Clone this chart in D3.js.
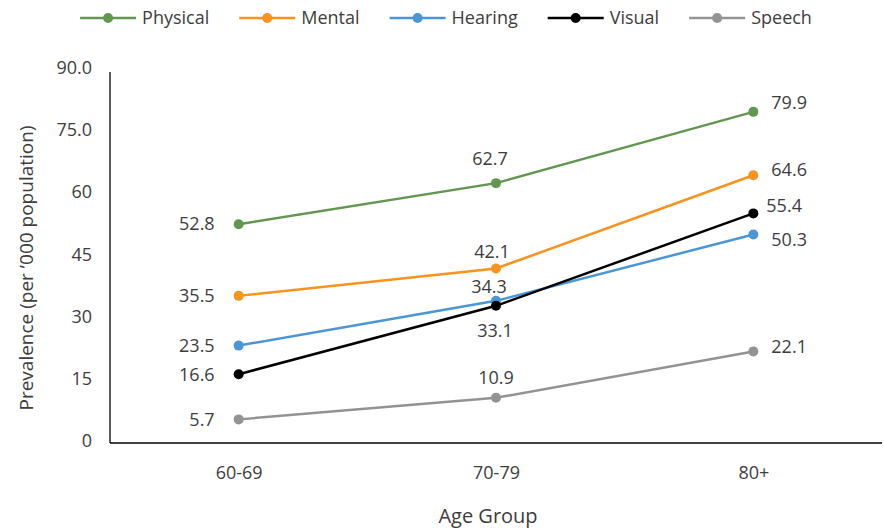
<!DOCTYPE html>
<html><head><meta charset="utf-8">
<script src="https://cdn.jsdelivr.net/npm/d3@7"></script>
<style>body{margin:0;background:#fff}svg{display:block;font-family:"Open Sans",sans-serif}</style>
</head><body><svg id="c" width="884" height="529"></svg>
<script>
const categories = ["60-69", "70-79", "80+"];
const seriesNames = ["Physical", "Mental", "Hearing", "Visual", "Speech"];
const physical = [52.8, 62.7, 79.9];
const mental = [35.5, 42.1, 64.6];
const hearing = [23.5, 34.3, 50.3];
const visual = [16.6, 33.1, 55.4];
const speech = [5.7, 10.9, 22.1];
const yTickValues = [0, 15, 30, 45, 60, 75, 90];
const yTickLabels = ["0", "15", "30", "45", "60", "75.0", "90.0"];
const colors = ["#629651", "#F7931E", "#4A96D6", "#000000", "#939393"];
// label placement per series per category: [dx, dy, anchor]
const labelPlacement = [
  [[-24, 0, "end"], [-6, -24, "middle"], [18, -9, "start"]],
  [[-24, 0, "end"], [-4, -17, "middle"], [18, -6, "start"]],
  [[-24, 0, "end"], [-7, -14, "middle"], [18, 5, "start"]],
  [[-24, 0, "end"], [-1, 25, "middle"], [13, -8, "start"]],
  [[-24, 0, "end"], [0, -20, "middle"], [18, -5, "start"]]
];

const series = [physical, mental, hearing, visual, speech];
const svg = d3.select("#c");
const textColor = "#3d3d3d";
const fs = 18;

const x = d3.scalePoint().domain(categories).range([110, 882]).padding(0.5);
const y = d3.scaleLinear().domain([0, 90]).range([443, 70]);

// axes
const yAxis = svg.append("g").attr("transform", "translate(110,0)")
  .call(d3.axisLeft(y).tickValues(yTickValues).tickSize(0).tickPadding(18)
    .tickFormat((d, i) => yTickLabels[i]));
yAxis.select(".domain").attr("stroke", "#000").attr("stroke-width", 1.3).attr("d", "M0,72V443");
yAxis.selectAll("text").attr("font-size", fs).attr("fill", textColor).attr("font-family", "Open Sans").attr("dy", "0.2em");

const xAxis = svg.append("g").attr("transform", "translate(0,443)")
  .call(d3.axisBottom(x).tickSize(0).tickPadding(23));
xAxis.select(".domain").attr("stroke", "#000").attr("stroke-width", 1.3).attr("d", "M110,0H882");
xAxis.selectAll("text").attr("font-size", fs).attr("fill", textColor).attr("font-family", "Open Sans");

svg.append("text").attr("x", 488).attr("y", 523).attr("text-anchor", "middle")
  .attr("font-size", 20).attr("fill", textColor).text("Age Group");
svg.append("text").attr("transform", "translate(33,268) rotate(-90)").attr("text-anchor", "middle")
  .attr("font-size", 19).attr("fill", textColor).text("Prevalence (per \u2019000 population)");

// lines
const line = d3.line().x((d, i) => x(categories[i])).y(d => y(d));
series.forEach((vals, s) => {
  const g = svg.append("g");
  g.append("path").datum(vals).attr("d", line).attr("fill", "none")
    .attr("stroke", colors[s]).attr("stroke-width", 2.5);
});
series.forEach((vals, s) => {
  const g = svg.append("g");
  g.selectAll("circle").data(vals).join("circle")
    .attr("cx", (d, i) => x(categories[i])).attr("cy", d => y(d)).attr("r", 5)
    .attr("fill", colors[s]);
  g.selectAll("text").data(vals).join("text")
    .attr("x", (d, i) => x(categories[i]) + labelPlacement[s][i][0])
    .attr("y", (d, i) => y(d) + labelPlacement[s][i][1])
    .attr("dy", "0.35em")
    .attr("text-anchor", (d, i) => labelPlacement[s][i][2])
    .attr("font-size", fs).attr("fill", textColor)
    .text(d => d.toFixed(1));
});

// legend
const leg = svg.append("g");
let cx = 0;
seriesNames.forEach((name, s) => {
  const g = leg.append("g").attr("transform", `translate(${cx},0)`);
  g.append("line").attr("x1", 0).attr("x2", 56).attr("y1", 0).attr("y2", 0)
    .attr("stroke", colors[s]).attr("stroke-width", 2.5);
  g.append("circle").attr("cx", 28).attr("cy", 0).attr("r", 5).attr("fill", colors[s]);
  const t = g.append("text").attr("x", 62).attr("y", 0).attr("dy", "0.35em")
    .attr("font-size", fs).attr("fill", textColor).text(name);
  cx += 62 + t.node().getComputedTextLength() + 30;
});
const total = cx - 30;
leg.attr("transform", `translate(${446 - total / 2},18)`);
</script></body></html>
